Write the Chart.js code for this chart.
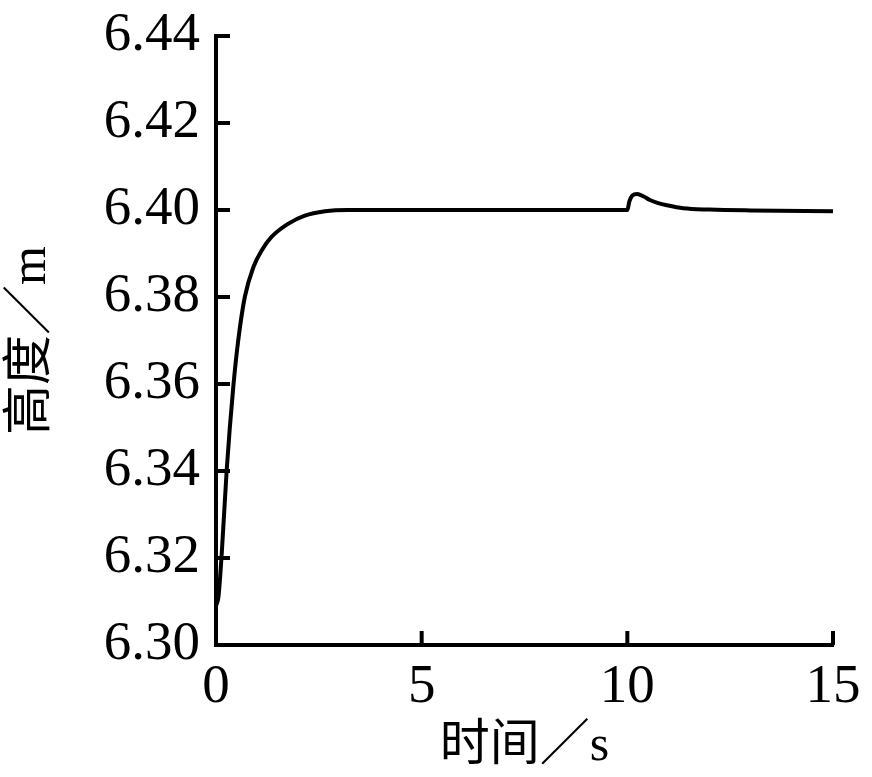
<!DOCTYPE html>
<html>
<head>
<meta charset="utf-8">
<script src="https://cdn.jsdelivr.net/npm/chart.js@4.4.0/dist/chart.umd.min.js"></script>
<style>
    html, body { margin: 0; padding: 0; background: #fff; }
    #wrap { width: 872px; height: 777px; }
</style>
</head>
<body>
<div id="wrap"><canvas id="height-chart" width="872" height="777"></canvas></div>
<script>
// values
var timeValues   = [0, 0.06, 0.14, 0.26, 0.42, 0.54, 0.70, 0.91, 1.11, 1.35, 1.75, 2.16, 2.65, 3.2, 5, 8, 10.0, 10.05, 10.12, 10.24, 10.4, 10.55, 10.75, 10.96, 11.36, 12, 13, 15];
var heightValues = [6.309, 6.3111, 6.3211, 6.3402, 6.3593, 6.3700, 6.3800, 6.3869, 6.3907, 6.3938, 6.3968, 6.3987, 6.3997, 6.4000, 6.4000, 6.4000, 6.4000, 6.4020, 6.4033, 6.4037, 6.4031, 6.4023, 6.4016, 6.4011, 6.4004, 6.4001, 6.3999, 6.3997];
var xTicks = [0, 5, 10, 15];
var yTicks = [6.30, 6.32, 6.34, 6.36, 6.38, 6.40, 6.42, 6.44];
var xTitle = '时间／s';
var yTitle = '高度／m';

var fontFamily = "'Liberation Serif', 'Times New Roman', 'Noto Sans CJK SC', serif";

// ticks drawn inside the plot area
var innerTicks = {
    id: 'innerTicks',
    afterDraw: function(chart) {
        var ctx = chart.ctx;
        var area = chart.chartArea;
        ctx.save();
        ctx.strokeStyle = '#000';
        ctx.lineWidth = 4;
        chart.scales.x.ticks.forEach(function(t) {
            var px = chart.scales.x.getPixelForValue(t.value);
            ctx.beginPath();
            ctx.moveTo(px, area.bottom);
            ctx.lineTo(px, area.bottom - 14);
            ctx.stroke();
        });
        chart.scales.y.ticks.forEach(function(t) {
            var py = chart.scales.y.getPixelForValue(t.value);
            ctx.beginPath();
            ctx.moveTo(area.left, py);
            ctx.lineTo(area.left + 14, py);
            ctx.stroke();
        });
        ctx.restore();
    }
};

var points = timeValues.map(function(t, i) {
    return { x: t, y: heightValues[i] };
});

var ctx = document.getElementById('height-chart').getContext('2d');
var heightChart = new Chart(ctx, {
    type: 'line',
    data: {
        datasets: [{
            data: points,
            borderColor: '#000',
            borderWidth: 4,
            pointRadius: 0,
            fill: false,
            cubicInterpolationMode: 'monotone'
        }]
    },
    options: {
        responsive: false,
        animation: false,
        layout: { padding: { top: 36, right: 39 } },
        plugins: {
            legend: { display: false },
            tooltip: { enabled: false }
        },
        scales: {
            x: {
                type: 'linear',
                min: 0,
                max: 15,
                afterBuildTicks: function(scale) {
                    scale.ticks = xTicks.map(function(v) { return { value: v }; });
                },
                afterFit: function(scale) {
                    scale.height = 132;
                    scale.paddingLeft = 0;
                    scale.paddingRight = 0;
                },
                grid: { display: false, drawTicks: false },
                border: { display: true, color: '#000', width: 4 },
                ticks: {
                    color: '#000',
                    padding: 10,
                    maxRotation: 0,
                    font: { family: fontFamily, size: 55 },
                    callback: function(v) { return v; }
                },
                title: {
                    display: true,
                    text: xTitle,
                    color: '#000',
                    padding: { top: -8, bottom: 0 },
                    font: { family: fontFamily, size: 50 }
                }
            },
            y: {
                type: 'linear',
                min: 6.30,
                max: 6.44,
                afterBuildTicks: function(scale) {
                    scale.ticks = yTicks.map(function(v) { return { value: v }; });
                },
                afterFit: function(scale) {
                    scale.width = 216;
                    scale.paddingTop = 0;
                    scale.paddingBottom = 0;
                },
                grid: { display: false, drawTicks: false },
                border: { display: true, color: '#000', width: 4 },
                ticks: {
                    color: '#000',
                    padding: 16,
                    font: { family: fontFamily, size: 55 },
                    callback: function(v) { return Number(v).toFixed(2); }
                },
                title: {
                    display: true,
                    text: yTitle,
                    color: '#000',
                    padding: { top: 2, bottom: 0 },
                    font: { family: fontFamily, size: 50 }
                }
            }
        }
    },
    plugins: [innerTicks]
});
</script>
</body>
</html>
